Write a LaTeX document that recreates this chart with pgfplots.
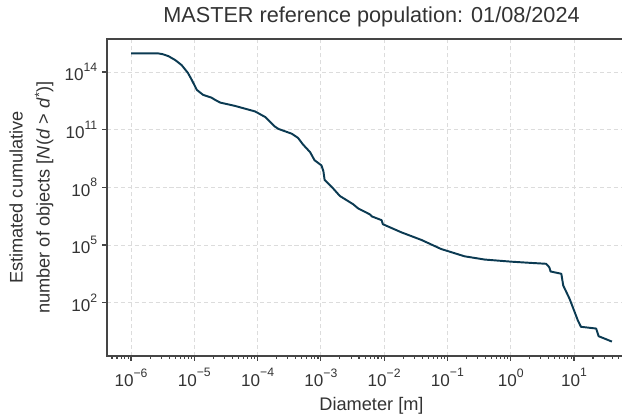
\documentclass[border=0pt]{standalone}
\usepackage{fontspec}
\setmainfont{Liberation Sans}
\usepackage{pgfplots}
\pgfplotsset{compat=1.18}
\definecolor{txt}{HTML}{333333}
\definecolor{spine}{HTML}{454545}
\definecolor{curve}{HTML}{0B3A52}
\definecolor{gridc}{HTML}{DCDCDC}
\newcommand{\tl}[1]{10\raisebox{0.55em}{\fontsize{8.8}{10}\selectfont #1}}
\begin{document}
\begin{tikzpicture}
\begin{axis}[
  at={(0,0)}, anchor=south west,
  scale only axis, width=380.88pt, height=228.24pt,
  xmode=log, ymode=log,
  xmin=4.169e-7, xmax=95.5, ymin=0.166, ymax=5.25e15,
  axis line style={spine, line width=1pt},
  tick align=outside, xtick pos=bottom, ytick pos=left,
  major tick length=3.5pt, minor tick length=2pt,
  every tick/.style={spine, line width=0.8pt},
  xtick={1e-6,1e-5,1e-4,1e-3,1e-2,1e-1,1,10},
  xticklabels={\tl{−6},\tl{−5},\tl{−4},\tl{−3},\tl{−2},\tl{−1},\tl{0},\tl{1}},
  minor xtick={5e-7,6e-7,7e-7,8e-7,9e-7,
    2e-6,3e-6,4e-6,5e-6,6e-6,7e-6,8e-6,9e-6,
    2e-5,3e-5,4e-5,5e-5,6e-5,7e-5,8e-5,9e-5,
    2e-4,3e-4,4e-4,5e-4,6e-4,7e-4,8e-4,9e-4,
    2e-3,3e-3,4e-3,5e-3,6e-3,7e-3,8e-3,9e-3,
    2e-2,3e-2,4e-2,5e-2,6e-2,7e-2,8e-2,9e-2,
    0.2,0.3,0.4,0.5,0.6,0.7,0.8,0.9,
    2,3,4,5,6,7,8,9,20,30,40,50,60,70,80,90},
  ytick={1e2,1e5,1e8,1e11,1e14},
  yticklabels={\tl{2},\tl{5},\tl{8},\tl{11},\tl{14}},
  ticklabel style={font=\fontsize{12.3}{14}\selectfont, text=txt},
  xticklabel style={yshift=-2pt},
  grid=major,
  major grid style={gridc, line width=0.6pt, dash pattern=on 3pt off 2pt},
  title={MASTER reference population: 01/08/2024},
  title style={font=\fontsize{15.6}{18}\selectfont, text=txt,
    at={(axis description cs:0.5,1)}, anchor=base, yshift=6pt},
  xlabel={Diameter [m]},
  xlabel style={font=\fontsize{13.1}{15}\selectfont, text=txt,
    at={(axis description cs:0.5,-0.1577)}, anchor=center},
  ylabel={Estimated cumulative\\number of objects [\textit{N}(\textit{d} > \textit{d}\textsuperscript{*})]},
  ylabel style={font=\fontsize{13.1}{19.4}\selectfont, text=txt, align=center,
    at={(axis description cs:-0.1428,0.5)}, anchor=center},
]
\addplot[curve, line width=1.4pt, line join=round] coordinates {
(1e-6,9.333e14) (2.692e-6,9.333e14) (3.162e-6,8.511e14) (3.890e-6,6.761e14)
(5.012e-6,4.169e14) (6.310e-6,2.291e14) (7.943e-6,8.913e13) (9.120e-6,3.890e13)
(1.096e-5,1.175e13) (1.380e-5,6.457e12) (1.862e-5,4.677e12) (2.138e-5,3.548e12)
(2.570e-5,2.570e12) (4.365e-5,1.738e12) (9.120e-5,8.913e11) (1.318e-4,4.571e11)
(1.862e-4,1.479e11) (2.138e-4,1.096e11) (3.467e-4,6.166e10) (4.365e-4,3.715e10)
(5.248e-4,1.660e10) (6.761e-4,6.761e9) (7.943e-4,2.570e9) (1.023e-3,1.380e9)
(1.096e-3,6.918e8) (1.148e-3,2.399e8) (1.479e-3,1.072e8) (1.995e-3,3.548e7)
(3.236e-3,1.318e7) (3.890e-3,7.943e6) (5.888e-3,3.981e6) (6.457e-3,3.020e6)
(9.120e-3,1.950e6) (9.550e-3,1.202e6) (1.862e-2,4.571e5) (3.890e-2,1.820e5)
(7.943e-2,6.166e4) (1.862e-1,2.570e4) (3.890e-1,1.738e4) (1.023,1.349e4)
(1.995,1.175e4) (3.631,1.047e4) (4.074,6.918e3) (4.266,4.169e3)
(6.310,3.162e3) (6.761,776.2) (8.511,158.5) (10,39.81)
(11.48,12.02) (12.88,5.495) (22.39,4.467) (24.55,1.778) (39.81,0.933)
};
\end{axis}
\pgfresetboundingbox
\path[use as bounding box] (-77.04pt,-43.92pt) rectangle (370.80pt,256.32pt);
\end{tikzpicture}
\end{document}
